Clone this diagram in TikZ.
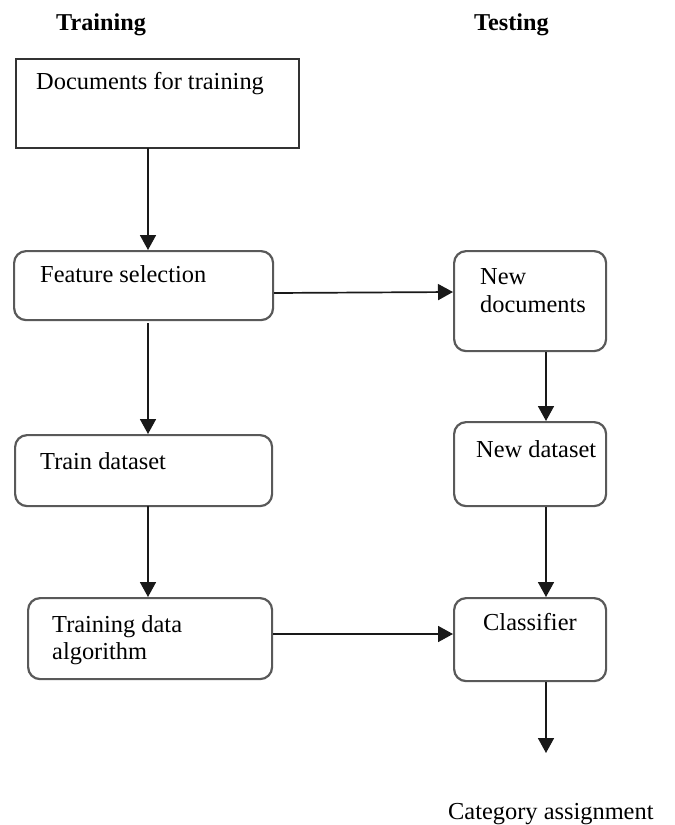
\documentclass[tikz,border=0pt]{standalone}
\usepackage{fontspec}
\setmainfont{Liberation Serif}
\usetikzlibrary{arrows.meta,calc}
\begin{document}
\begin{tikzpicture}[x=1pt,y=-1pt,
  box/.style={draw=black!65,line width=2.2pt,rounded corners=12pt,inner sep=0pt,anchor=north west},
  sqbox/.style={draw=black!80,line width=1.8pt,inner sep=0pt,anchor=north west},
  lbl/.style={anchor=base west,inner sep=0pt,font=\fontsize{24.4}{29}\selectfont,align=left},
  head/.style={anchor=base west,inner sep=0pt,font=\fontsize{24.2}{29}\selectfont\bfseries},
  arr/.style={draw=black!90,line width=1.7pt,-{Triangle[length=15pt,width=16pt]}}]
\useasboundingbox (0,0) rectangle (675,825);
% headings
\node[head] (htrain) at (56,30) {Training};
\node[head] (htest) at (474,30) {Testing};
% boxes
\node[sqbox,minimum width=283pt,minimum height=89pt] (docs) at (15,58) {};
\node[box,minimum width=259pt,minimum height=69pt] (feat) at (13,250) {};
\node[box,minimum width=257pt,minimum height=71pt] (train) at (14,434) {};
\node[box,minimum width=244pt,minimum height=81pt] (alg) at (27,597) {};
\node[box,minimum width=152pt,minimum height=100pt] (newdoc) at (453,250) {};
\node[box,minimum width=152pt,minimum height=84pt] (newds) at (453,421) {};
\node[box,minimum width=152pt,minimum height=83pt] (clf) at (453,597) {};
% labels
\node[lbl] (tdocs) at (36,89) {Documents for training};
\node[lbl] (tfeat) at (40,282) {Feature selection};
\node[lbl] (ttrain) at (40,469) {Train dataset};
\node[lbl] (talg1) at (52,632) {Training data};
\node[lbl] (talg2) at (52,659) {algorithm};
\node[lbl] (tnd1) at (480,284) {New};
\node[lbl] (tnd2) at (480,312) {documents};
\node[lbl] (tnds) at (476,457) {New dataset};
\node[lbl] (tclf) at (483,630) {Classifier};
\node[lbl] (tcat) at (448,819) {Category assignment};
\coordinate (catend) at (546,753);
% connectors
\draw[arr] (148,148) -- (feat.north -| 148,0);
\draw[arr] (148,323) -- (train.north -| 148,0);
\draw[arr] (148,506) -- (alg.north -| 148,0);
\draw[arr] (feat.east |- 0,293) -- (newdoc.west |- 0,292);
\draw[arr] (alg.east |- 0,634) -- (clf.west |- 0,634);
\draw[arr] (newdoc.south -| 546,0) -- (newds.north -| 546,0);
\draw[arr] (newds.south -| 546,0) -- (clf.north -| 546,0);
\draw[arr] (clf.south -| 546,0) -- (catend);
\end{tikzpicture}
\end{document}
